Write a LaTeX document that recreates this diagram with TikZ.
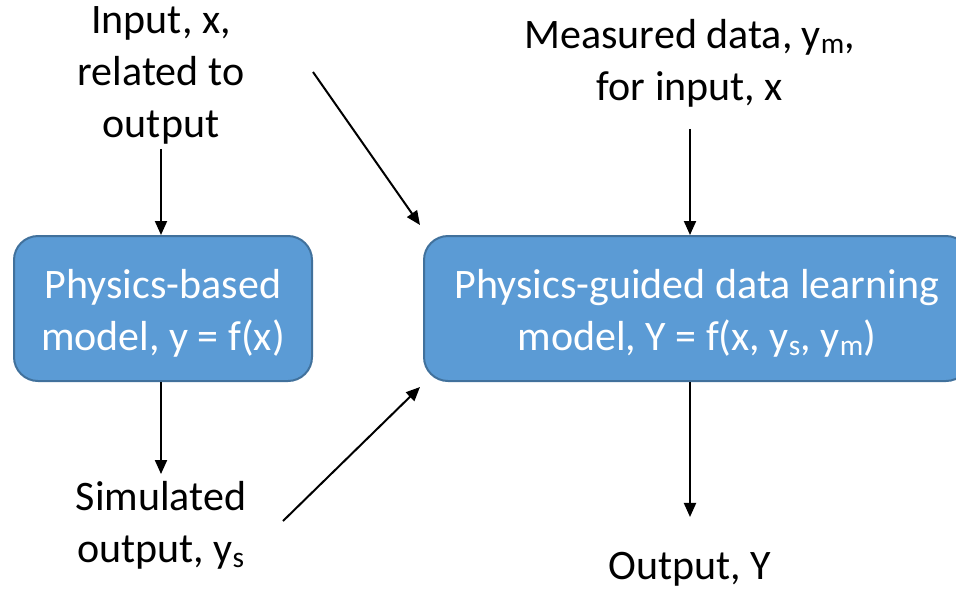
\documentclass[tikz,border=0pt]{standalone}
\usepackage{fontspec}
\setmainfont{Carlito}
\usetikzlibrary{positioning,arrows.meta,calc}
\definecolor{boxfill}{RGB}{91,155,213}
\definecolor{boxline}{RGB}{65,113,156}
\tikzstyle{model} = [draw=boxline, fill=boxfill, line width=2pt,
                     rounded corners=24pt, text=white, align=center,
                     minimum height=145pt]
\tikzstyle{lbl} = [align=center, inner sep=0pt]

\begin{document}
\begin{tikzpicture}[
      x=1pt, y=-1pt,
      ->,
      >={Triangle[length=14pt,width=12pt]},
      line width=2pt,
      font=\fontsize{42}{52}\selectfont,
      node distance=534pt]
  \useasboundingbox (0,0) rectangle (956,590);

  % the two models
  \node[model, minimum width=298pt] (phys) at (163,308.5)
       {\rule{0pt}{38pt}Physics-based\\model, y = f(x)};
  \node[model, minimum width=546pt] (guided) [right of=phys]
       {\rule{0pt}{38pt}Physics-guided data learning\\model, Y = f(x, y\textsubscript{s}, y\textsubscript{m})};

  % inputs and outputs
  \node[lbl] (input) at (161,75) {Input, x,\\related to\\output};
  \node[lbl] (meas)  at (690,63) {Measured data, y\textsubscript{m},\\for input, x};
  \node[lbl] (sim)   at (161,525) {Simulated\\output, y\textsubscript{s}};
  \node[lbl] (out)   at (690,569) {Output, Y};

  \coordinate (xfree) at (313,72);
  \coordinate (sfree) at (283,521);

  \path
    (input.south) edge [shorten <=4pt] (input.south |- phys.north)
    (phys.south -| sim.north) edge [shorten >=6pt] (sim.north)
    (meas.south) edge [shorten <=21pt] (meas.south |- guided.north)
    (out.north |- guided.south) edge [shorten >=34pt] (out.north)
    (xfree) edge ([shift={(-3,-10)}]guided.north west)
    (sfree) edge ([shift={(-3,5)}]guided.south west)
    ;

\end{tikzpicture}
\end{document}
